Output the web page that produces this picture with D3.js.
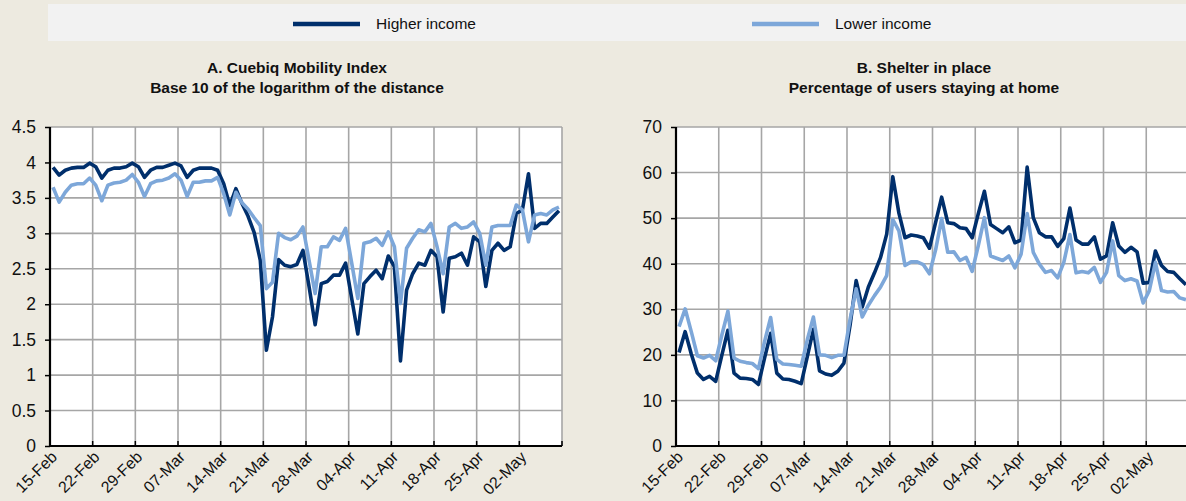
<!DOCTYPE html>
<html>
<head>
<meta charset="utf-8">
<script src="https://cdn.jsdelivr.net/npm/d3@7"></script>
<style>
  body { margin: 0; background: #edeae0; }
  svg { display: block; }
  text { font-family: "Liberation Sans", Arial, sans-serif; fill: #111; }
  .tick-label { font-family: "Liberation Sans Narrow", "Arial Narrow", "Liberation Sans", sans-serif; }
</style>
</head>
<body>
<svg id="chart" width="1186" height="501"></svg>
<script>
// daily values, 15-Feb-2020 .. 08-May-2020
var mobilityHigher = [3.93,3.82,3.89,3.92,3.93,3.93,3.99,3.94,3.78,3.89,3.92,3.92,3.94,3.99,3.94,3.79,3.89,3.93,3.93,3.96,3.99,3.95,3.79,3.89,3.92,3.92,3.92,3.89,
  3.70,3.39,3.63,3.42,3.24,3.01,2.62,1.35,1.82,2.63,2.55,2.53,2.56,2.76,2.25,1.71,2.29,2.32,2.41,2.41,2.58,2.08,1.58,2.29,2.39,2.48,2.36,2.68,
  2.53,1.20,2.20,2.43,2.58,2.55,2.76,2.67,1.89,2.65,2.67,2.72,2.55,2.95,2.88,2.25,2.76,2.86,2.76,2.81,3.28,3.33,3.84,3.07,3.14,3.14,3.23,3.32];
var mobilityLower = [3.65,3.44,3.58,3.68,3.70,3.70,3.78,3.68,3.46,3.68,3.71,3.72,3.75,3.83,3.72,3.52,3.70,3.74,3.75,3.78,3.84,3.75,3.52,3.72,3.72,3.74,3.74,3.79,
  3.56,3.26,3.58,3.43,3.34,3.22,3.11,2.22,2.31,3.00,2.94,2.91,2.96,3.09,2.62,2.15,2.81,2.81,2.95,2.90,3.07,2.58,2.08,2.86,2.88,2.93,2.83,3.02,
  2.81,2.01,2.79,2.93,3.05,3.02,3.14,2.81,2.43,3.09,3.14,3.07,3.09,3.16,3.00,2.55,3.09,3.11,3.11,3.11,3.40,3.33,2.88,3.26,3.28,3.26,3.33,3.37];
var shelterHigher = [20.5,25.1,20.2,16.0,14.6,15.3,14.2,19.9,25.4,16.0,14.9,14.8,14.6,13.5,19.3,24.7,16.0,14.7,14.6,14.2,13.7,19.6,25.6,16.5,15.8,15.5,16.4,18.2,
  26.5,36.3,30.5,34.9,38.0,41.4,46.5,59.1,51.1,45.7,46.3,46.1,45.7,43.4,49.0,54.6,49.0,48.8,47.9,47.7,45.7,51.0,55.9,48.6,47.7,46.8,48.1,44.6,
  45.2,61.2,50.1,46.8,45.9,45.9,43.8,45.5,52.2,45.2,44.3,44.3,45.9,41.0,41.7,49.0,43.9,42.5,43.6,42.6,35.7,35.9,42.8,39.6,38.3,38.1,36.7,35.4];
var shelterLower = [26.2,30.1,25.1,19.8,19.3,19.9,18.7,24.3,29.6,19.3,18.6,18.3,18.1,17.0,22.9,28.2,19.0,18.0,17.9,17.7,17.5,23.3,28.3,20.0,19.9,19.4,19.9,19.9,
  27.8,34.5,28.3,30.9,33.0,34.9,37.4,49.7,47.2,39.6,40.4,40.4,39.8,37.8,43.0,49.9,42.5,42.6,40.7,41.4,38.3,44.0,50.1,41.7,41.2,40.7,41.7,39.1,
  42.1,51.0,42.5,39.9,38.1,38.5,36.9,40.3,46.4,38.0,38.3,38.0,39.2,35.9,38.1,45.0,37.4,36.3,36.7,36.2,31.4,34.1,40.3,34.1,33.8,33.9,32.5,32.1];

var tickLabels = ["15-Feb","22-Feb","29-Feb","07-Mar","14-Mar","21-Mar","28-Mar","04-Apr","11-Apr","18-Apr","25-Apr","02-May"];
var yTicksA = [0,0.5,1,1.5,2,2.5,3,3.5,4,4.5];
var yTicksB = [0,10,20,30,40,50,60,70];
var seriesNames = ["Higher income","Lower income"];
var colors = ["#002f6c","#7da7d9"];

var days = d3.timeDay.range(new Date(2020,1,15), new Date(2020,4,9));

var svg = d3.select("#chart");

// legend
svg.append("rect").attr("x",48).attr("y",4).attr("width",1138).attr("height",37).attr("fill","#f2f2f2");
var legendX = [293, 752];
seriesNames.forEach(function(name, i){
  svg.append("line").attr("x1",legendX[i]).attr("x2",legendX[i]+67).attr("y1",24).attr("y2",24)
    .attr("stroke",colors[i]).attr("stroke-width",4.5);
  svg.append("text").attr("x",legendX[i]+83).attr("y",24).attr("dy","0.35em")
    .style("font-size","15.5px").text(name);
});

function drawPanel(opt){
  var g = svg.append("g").attr("transform","translate(" + opt.left + "," + opt.top + ")");
  var w = opt.width, h = opt.height;

  var x = d3.scaleBand().domain(days).range([0, w]).padding(0);
  var y = d3.scaleLinear().domain([0, opt.ymax]).range([h, 0]);

  g.append("rect").attr("width", w).attr("height", h).attr("fill","#fff");

  // titles
  opt.titles.forEach(function(t, i){
    svg.append("text").attr("x", opt.titleX).attr("y", 68 + i*20).attr("dy","0.35em")
      .attr("text-anchor","middle").style("font-size","15.5px").style("font-weight","bold").text(t);
  });

  // grid
  var tickDays = tickLabels.map(function(l, i){ return days[i*7]; });
  var gridX = tickDays.map(function(d){ return x(d); }).concat([w]);
  g.selectAll(".vgrid").data(gridX).enter().append("line")
    .attr("x1", function(d){ return d; }).attr("x2", function(d){ return d; })
    .attr("y1", 0).attr("y2", h)
    .attr("stroke","#a6a6a6").attr("stroke-width",1.6);
  g.selectAll(".hgrid").data(opt.yTicks).enter().append("line")
    .attr("x1", 0).attr("x2", w)
    .attr("y1", function(d){ return y(d); }).attr("y2", function(d){ return y(d); })
    .attr("stroke","#a6a6a6").attr("stroke-width",1.6);

  // lines
  var line = d3.line()
    .x(function(d, i){ return x(days[i]) + x.bandwidth()/2; })
    .y(function(d){ return y(d); });
  opt.series.forEach(function(s, i){
    g.append("path").datum(s).attr("d", line).attr("fill","none")
      .attr("stroke", colors[i]).attr("stroke-width", 3.6).attr("stroke-linejoin","round");
  });

  // y axis
  var yAxis = d3.axisLeft(y).tickValues(opt.yTicks).tickSize(5).tickPadding(9)
    .tickFormat(function(d){ return String(d); });
  var ya = g.append("g").call(yAxis);
  ya.select(".domain").remove();
  ya.selectAll("line").attr("stroke","#000").attr("stroke-width",1.5);
  ya.selectAll("text").attr("class","tick-label").style("font-size","17.5px").attr("fill","#111");

  // x ticks
  g.selectAll(".xtick").data(gridX).enter().append("line")
    .attr("x1", function(d){ return d; }).attr("x2", function(d){ return d; })
    .attr("y1", h - 5).attr("y2", h)
    .attr("stroke","#000").attr("stroke-width",1.5);
  g.selectAll(".xlabel").data(tickDays).enter().append("text")
    .attr("class","tick-label")
    .attr("transform", function(d){ return "translate(" + (x(d) + 4) + "," + (h + 8) + ") rotate(-45)"; })
    .attr("text-anchor","end").attr("dy","0.35em")
    .style("font-size","16px")
    .text(function(d, i){ return tickLabels[i]; });

  // axis lines
  g.append("line").attr("x1",0).attr("x2",0).attr("y1",0).attr("y2",h).attr("stroke","#000").attr("stroke-width",2.2);
  g.append("line").attr("x1",0).attr("x2",w).attr("y1",h).attr("y2",h).attr("stroke","#000").attr("stroke-width",2.2);
}

drawPanel({
  left: 50, top: 127, width: 512, height: 319, ymax: 4.5, yTicks: yTicksA,
  titleX: 297, titles: ["A. Cuebiq Mobility Index","Base 10 of the logarithm of the distance"],
  series: [mobilityHigher, mobilityLower]
});
drawPanel({
  left: 676, top: 127, width: 513, height: 319, ymax: 70, yTicks: yTicksB,
  titleX: 924, titles: ["B. Shelter in place","Percentage of users staying at home"],
  series: [shelterHigher, shelterLower]
});
</script>
</body>
</html>
